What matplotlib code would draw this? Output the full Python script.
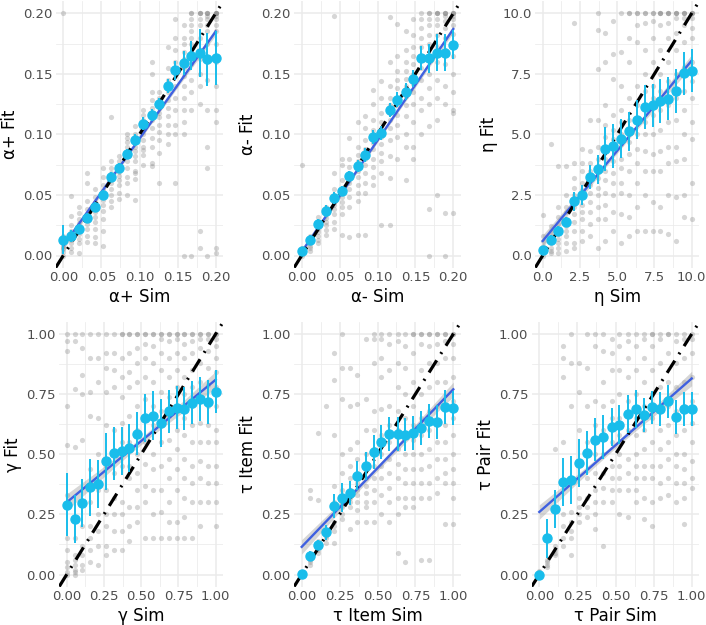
import numpy as np
import matplotlib
matplotlib.use("Agg")
import matplotlib.pyplot as plt
from matplotlib.ticker import FixedLocator

# ---------------- data ----------------
sim_alpha = [0.000, 0.0105, 0.021, 0.0316, 0.042, 0.0526, 0.063, 0.0737, 0.084, 0.0947,
             0.105, 0.116, 0.126, 0.137, 0.147, 0.158, 0.168, 0.179, 0.189, 0.200]
sim_eta = [0.00, 0.53, 1.05, 1.58, 2.11, 2.63, 3.16, 3.68, 4.21, 4.74,
           5.26, 5.79, 6.32, 6.84, 7.37, 7.89, 8.42, 8.95, 9.47, 10.0]
sim_unit = [0.000, 0.053, 0.105, 0.158, 0.211, 0.263, 0.316, 0.368, 0.421, 0.474,
            0.526, 0.579, 0.632, 0.684, 0.737, 0.789, 0.842, 0.895, 0.947, 1.000]

# binned means (cyan) and error half-widths
mean_ap = [0.013, 0.016, 0.022, 0.031, 0.040, 0.0497, 0.065, 0.072, 0.084, 0.0956,
           0.109, 0.116, 0.125, 0.140, 0.153, 0.159, 0.165, 0.167, 0.162, 0.163]
err_ap = [0.012, 0.005, 0.004, 0.004, 0.004, 0.004, 0.004, 0.004, 0.004, 0.005,
          0.005, 0.005, 0.005, 0.006, 0.008, 0.010, 0.012, 0.020, 0.022, 0.022]
mean_am = [0.0036, 0.013, 0.026, 0.0365, 0.0475, 0.0536, 0.066, 0.0736, 0.083, 0.098,
           0.101, 0.120, 0.1286, 0.1354, 0.146, 0.163, 0.163, 0.1676, 0.1676, 0.174]
err_am = [0.002, 0.004, 0.004, 0.005, 0.005, 0.004, 0.004, 0.005, 0.006, 0.006,
          0.006, 0.006, 0.006, 0.007, 0.007, 0.010, 0.012, 0.015, 0.015, 0.012]
mean_eta = [0.21, 0.64, 1.00, 1.39, 2.23, 2.50, 3.25, 3.57, 4.40, 4.53,
            4.82, 5.13, 5.61, 6.13, 6.20, 6.38, 6.48, 6.80, 7.52, 7.63]
err_eta = [0.1, 0.2, 0.2, 0.2, 0.4, 0.4, 0.5, 0.6, 0.9, 0.9,
           0.8, 0.8, 0.8, 0.9, 0.9, 0.9, 0.9, 0.9, 0.9, 0.9]
mean_gam = [0.290, 0.230, 0.297, 0.362, 0.376, 0.470, 0.505, 0.513, 0.526, 0.586,
            0.652, 0.661, 0.630, 0.678, 0.694, 0.689, 0.714, 0.730, 0.717, 0.760]
err_gam = [0.13, 0.10, 0.10, 0.12, 0.10, 0.12, 0.11, 0.10, 0.10, 0.09,
           0.10, 0.10, 0.10, 0.09, 0.09, 0.09, 0.09, 0.09, 0.09, 0.09]
mean_ti = [0.003, 0.076, 0.123, 0.175, 0.286, 0.320, 0.338, 0.410, 0.451, 0.509,
           0.550, 0.585, 0.585, 0.582, 0.589, 0.610, 0.637, 0.633, 0.697, 0.692]
err_ti = [0.005, 0.02, 0.02, 0.03, 0.05, 0.06, 0.05, 0.06, 0.06, 0.07,
          0.07, 0.07, 0.07, 0.07, 0.07, 0.07, 0.07, 0.07, 0.07, 0.07]
mean_tp = [0.000, 0.150, 0.272, 0.383, 0.394, 0.463, 0.505, 0.560, 0.572, 0.613,
           0.623, 0.667, 0.688, 0.664, 0.695, 0.688, 0.720, 0.655, 0.688, 0.688]
err_tp = [0.005, 0.08, 0.08, 0.10, 0.10, 0.10, 0.09, 0.09, 0.09, 0.08,
          0.08, 0.08, 0.08, 0.07, 0.07, 0.07, 0.07, 0.07, 0.07, 0.07]

# linear fit (start at x=min, end at x=max) and CI half-widths (ends, middle)
fit_line = {"ap": (0.008, 0.185), "am": (0.003, 0.187), "eta": (0.60, 8.05),
            "gam": (0.30, 0.81), "ti": (0.115, 0.77), "tp": (0.26, 0.815)}
fit_ci = {"ap": (0.003, 0.0015), "am": (0.003, 0.0015), "eta": (0.25, 0.10),
          "gam": (0.035, 0.015), "ti": (0.03, 0.012), "tp": (0.03, 0.012)}

# individual fits (gray), one list of y values per simulated level
gray_ap = [
    [0.2, 0.016, 0.010, 0.008, 0.005, 0.003, 0.0, 0.012, 0.006],
    [0.049, 0.033, 0.025, 0.020, 0.018, 0.015, 0.013, 0.010, 0.006, 0.003],
    [0.040, 0.035, 0.030, 0.027, 0.024, 0.020, 0.018, 0.014, 0.010, 0.002],
    [0.068, 0.060, 0.045, 0.038, 0.033, 0.030, 0.026, 0.022, 0.016, 0.011],
    [0.055, 0.048, 0.044, 0.040, 0.036, 0.032, 0.028, 0.022, 0.015, 0.010],
    [0.072, 0.065, 0.058, 0.054, 0.050, 0.046, 0.042, 0.037, 0.030, 0.020, 0.008],
    [0.114, 0.078, 0.072, 0.068, 0.064, 0.060, 0.055, 0.050, 0.045, 0.040],
    [0.082, 0.078, 0.075, 0.072, 0.069, 0.066, 0.062, 0.058, 0.052, 0.047],
    [0.100, 0.097, 0.094, 0.090, 0.085, 0.082, 0.078, 0.072, 0.065, 0.060, 0.050],
    [0.107, 0.100, 0.095, 0.090, 0.086, 0.082, 0.078, 0.070, 0.068, 0.063, 0.046],
    [0.120, 0.116, 0.112, 0.108, 0.105, 0.100, 0.095, 0.090, 0.087, 0.083, 0.075],
    [0.160, 0.150, 0.135, 0.128, 0.122, 0.118, 0.112, 0.105, 0.097, 0.090, 0.076, 0.074],
    [0.135, 0.130, 0.126, 0.122, 0.118, 0.114, 0.108, 0.102, 0.095, 0.085, 0.060],
    [0.172, 0.155, 0.145, 0.140, 0.135, 0.128, 0.122, 0.115, 0.108, 0.100, 0.092],
    [0.195, 0.180, 0.170, 0.160, 0.155, 0.150, 0.140, 0.130, 0.120, 0.108, 0.100, 0.060],
    [0.190, 0.180, 0.175, 0.168, 0.162, 0.155, 0.148, 0.140, 0.130, 0.120, 0.110, 0.100, 0.0],
    [0.200, 0.200, 0.195, 0.190, 0.185, 0.180, 0.175, 0.165, 0.158, 0.145, 0.135, 0.120, 0.0],
    [0.200, 0.200, 0.200, 0.195, 0.190, 0.180, 0.170, 0.162, 0.150, 0.140, 0.125, 0.020, 0.006],
    [0.200, 0.200, 0.200, 0.198, 0.195, 0.190, 0.185, 0.175, 0.160, 0.145, 0.120, 0.090, 0.072, 0.0],
    [0.200, 0.200, 0.200, 0.200, 0.198, 0.195, 0.190, 0.185, 0.175, 0.160, 0.140, 0.120, 0.110, 0.006, 0.002],
]
gray_am = [
    [0.075, 0.006, 0.004, 0.002, 0.001, 0.0],
    [0.016, 0.014, 0.012, 0.010, 0.008, 0.006, 0.004],
    [0.032, 0.028, 0.025, 0.022, 0.019, 0.016, 0.013, 0.010],
    [0.040, 0.037, 0.034, 0.031, 0.028, 0.025, 0.021, 0.017],
    [0.198, 0.068, 0.055, 0.050, 0.046, 0.042, 0.038, 0.034, 0.028, 0.022],
    [0.080, 0.075, 0.062, 0.056, 0.052, 0.048, 0.044, 0.040, 0.034, 0.017],
    [0.097, 0.080, 0.073, 0.068, 0.064, 0.060, 0.055, 0.048, 0.040, 0.015],
    [0.110, 0.090, 0.083, 0.078, 0.074, 0.070, 0.065, 0.058, 0.052, 0.045, 0.017],
    [0.115, 0.105, 0.095, 0.088, 0.084, 0.080, 0.075, 0.068, 0.060, 0.052, 0.017],
    [0.137, 0.125, 0.112, 0.104, 0.098, 0.093, 0.088, 0.080, 0.073, 0.065, 0.058],
    [0.144, 0.130, 0.118, 0.110, 0.104, 0.098, 0.092, 0.085, 0.078, 0.068, 0.025],
    [0.197, 0.160, 0.140, 0.130, 0.124, 0.118, 0.112, 0.105, 0.095, 0.082, 0.064, 0.025],
    [0.191, 0.165, 0.152, 0.145, 0.138, 0.130, 0.124, 0.116, 0.108, 0.098, 0.080],
    [0.185, 0.170, 0.160, 0.152, 0.146, 0.140, 0.132, 0.124, 0.115, 0.100, 0.090, 0.062],
    [0.195, 0.182, 0.172, 0.165, 0.158, 0.150, 0.142, 0.135, 0.125, 0.110, 0.090, 0.080],
    [0.200, 0.195, 0.188, 0.180, 0.172, 0.165, 0.155, 0.145, 0.130, 0.120, 0.100],
    [0.200, 0.200, 0.195, 0.190, 0.182, 0.175, 0.165, 0.150, 0.138, 0.125, 0.107, 0.038, 0.0],
    [0.200, 0.200, 0.200, 0.195, 0.190, 0.182, 0.172, 0.160, 0.145, 0.130, 0.112, 0.050],
    [0.200, 0.200, 0.200, 0.198, 0.194, 0.188, 0.180, 0.170, 0.158, 0.140, 0.125, 0.035, 0.0],
    [0.200, 0.200, 0.200, 0.198, 0.195, 0.190, 0.183, 0.175, 0.165, 0.150, 0.135, 0.120, 0.118, 0.035],
]
gray_eta = [
    [1.68, 0.8, 0.6, 0.4, 0.3, 0.2, 0.1, 0.0],
    [4.6, 1.2, 1.0, 0.8, 0.6, 0.5, 0.3, 0.2, 0.1],
    [3.7, 2.0, 1.6, 1.3, 1.1, 0.9, 0.7, 0.5, 0.3, 0.1],
    [3.7, 2.5, 2.0, 1.8, 1.5, 1.2, 1.0, 0.8, 0.5, 0.2],
    [9.6, 3.8, 3.2, 2.8, 2.5, 2.2, 2.0, 1.7, 1.4, 1.0, 0.5, 0.3],
    [4.4, 3.8, 3.5, 3.0, 2.7, 2.4, 2.1, 1.8, 1.5, 1.0, 0.6],
    [5.6, 4.3, 3.8, 3.5, 3.2, 2.9, 2.6, 2.2, 1.8, 1.3, 0.8],
    [10.0, 9.3, 7.7, 5.6, 4.5, 4.0, 3.6, 3.2, 2.8, 2.5, 2.0, 1.5, 0.3],
    [9.2, 8.0, 6.2, 5.4, 4.9, 4.5, 4.0, 3.5, 3.1, 2.6, 2.1, 1.5, 0.6],
    [9.7, 8.3, 7.3, 5.8, 5.2, 4.8, 4.4, 3.9, 3.4, 3.0, 2.5, 1.8, 1.0],
    [10.0, 8.4, 7.0, 6.0, 5.5, 5.0, 4.6, 4.0, 3.6, 3.0, 2.6, 1.7, 0.5],
    [10.0, 10.0, 9.0, 8.0, 6.5, 5.6, 5.2, 4.7, 4.2, 3.5, 2.5, 1.6, 0.8],
    [10.0, 10.0, 9.5, 8.8, 7.0, 6.2, 5.5, 5.0, 4.4, 3.8, 3.0, 2.0, 1.0],
    [10.0, 10.0, 9.6, 8.5, 7.5, 6.8, 6.2, 5.5, 5.0, 4.3, 3.5, 2.5, 1.0],
    [10.0, 10.0, 9.7, 9.0, 8.0, 7.0, 6.5, 5.8, 5.0, 4.2, 3.5, 2.2, 1.0],
    [10.0, 10.0, 10.0, 9.5, 8.5, 7.5, 6.8, 6.0, 5.2, 4.3, 3.5, 2.0, 1.0],
    [10.0, 10.0, 10.0, 9.6, 9.0, 8.0, 7.2, 6.2, 5.5, 4.5, 3.8, 2.5, 0.9],
    [10.0, 10.0, 10.0, 9.8, 9.2, 8.5, 7.5, 6.5, 5.6, 4.5, 3.9, 2.4, 0.6],
    [10.0, 10.0, 10.0, 9.8, 9.5, 8.8, 7.8, 6.8, 6.0, 5.0, 4.0, 2.5, 1.6],
    [10.0, 10.0, 10.0, 9.8, 9.4, 9.0, 8.0, 7.2, 6.5, 5.5, 4.8, 3.0, 1.5],
]
gray_gam = [
    [1.0, 0.97, 0.93, 0.70, 0.54, 0.33, 0.15, 0.10, 0.05, 0.03, 0.01, 0.0],
    [1.0, 0.97, 0.77, 0.53, 0.15, 0.08, 0.06, 0.04, 0.02, 0.01, 0.0],
    [1.0, 0.94, 0.83, 0.75, 0.56, 0.30, 0.20, 0.12, 0.08, 0.04, 0.02],
    [1.0, 0.90, 0.76, 0.66, 0.44, 0.30, 0.20, 0.15, 0.10, 0.05],
    [1.0, 0.90, 0.80, 0.65, 0.50, 0.35, 0.25, 0.18, 0.12, 0.04],
    [1.0, 0.92, 0.86, 0.76, 0.62, 0.45, 0.35, 0.25, 0.20, 0.12, 0.08],
    [1.0, 0.92, 0.85, 0.78, 0.60, 0.42, 0.32, 0.25, 0.18, 0.10],
    [1.0, 1.0, 0.90, 0.82, 0.74, 0.63, 0.55, 0.45, 0.30, 0.25, 0.18, 0.10],
    [1.0, 1.0, 0.92, 0.84, 0.78, 0.66, 0.55, 0.45, 0.40, 0.28, 0.20, 0.14],
    [1.0, 1.0, 0.94, 0.88, 0.80, 0.70, 0.60, 0.50, 0.42, 0.35, 0.28, 0.22],
    [1.0, 1.0, 0.96, 0.90, 0.82, 0.73, 0.65, 0.55, 0.46, 0.37, 0.30, 0.15],
    [1.0, 1.0, 0.95, 0.88, 0.80, 0.70, 0.62, 0.50, 0.44, 0.35, 0.25, 0.15],
    [1.0, 1.0, 0.98, 0.92, 0.85, 0.76, 0.68, 0.55, 0.45, 0.35, 0.26, 0.15],
    [1.0, 1.0, 0.97, 0.90, 0.82, 0.74, 0.66, 0.56, 0.48, 0.40, 0.30, 0.22, 0.15],
    [1.0, 1.0, 0.98, 0.92, 0.85, 0.78, 0.70, 0.60, 0.52, 0.44, 0.35, 0.22, 0.15],
    [1.0, 1.0, 0.96, 0.90, 0.82, 0.75, 0.65, 0.58, 0.48, 0.40, 0.32, 0.24, 0.15],
    [1.0, 1.0, 0.97, 0.92, 0.85, 0.78, 0.70, 0.62, 0.55, 0.45, 0.38, 0.30, 0.15],
    [1.0, 1.0, 0.98, 0.94, 0.88, 0.80, 0.72, 0.63, 0.55, 0.47, 0.40, 0.30, 0.20],
    [1.0, 1.0, 0.98, 0.93, 0.86, 0.79, 0.70, 0.62, 0.55, 0.45, 0.38, 0.30],
    [1.0, 1.0, 0.98, 0.95, 0.90, 0.84, 0.78, 0.70, 0.60, 0.55, 0.45, 0.38, 0.30, 0.20],
]
gray_ti = [
    [0.0, 0.005, 0.01],
    [0.35, 0.32, 0.08, 0.06, 0.05, 0.04],
    [0.59, 0.31, 0.14, 0.12, 0.10, 0.09],
    [0.70, 0.18, 0.16, 0.15, 0.13],
    [0.92, 0.81, 0.58, 0.37, 0.30, 0.22, 0.20, 0.18, 0.13],
    [1.0, 0.86, 0.73, 0.50, 0.42, 0.35, 0.30, 0.28, 0.25, 0.23],
    [0.86, 0.70, 0.52, 0.45, 0.40, 0.35, 0.32, 0.30, 0.28, 0.19],
    [0.83, 0.71, 0.55, 0.48, 0.42, 0.38, 0.35, 0.33, 0.30, 0.27, 0.22],
    [0.98, 0.73, 0.60, 0.50, 0.45, 0.40, 0.37, 0.34, 0.30, 0.28, 0.22],
    [1.0, 0.98, 0.88, 0.68, 0.60, 0.52, 0.45, 0.40, 0.35, 0.30, 0.22],
    [1.0, 0.98, 0.90, 0.82, 0.69, 0.58, 0.50, 0.45, 0.40, 0.33, 0.25],
    [1.0, 0.96, 0.85, 0.70, 0.62, 0.55, 0.48, 0.42, 0.36, 0.30, 0.22],
    [1.0, 0.97, 0.88, 0.78, 0.68, 0.60, 0.52, 0.46, 0.40, 0.32, 0.25, 0.09],
    [1.0, 0.95, 0.86, 0.75, 0.65, 0.58, 0.50, 0.44, 0.38, 0.32, 0.28, 0.05],
    [1.0, 1.0, 0.92, 0.80, 0.70, 0.62, 0.56, 0.50, 0.44, 0.38, 0.32, 0.28],
    [1.0, 1.0, 0.96, 0.85, 0.75, 0.65, 0.58, 0.50, 0.44, 0.38, 0.32, 0.06],
    [1.0, 1.0, 0.95, 0.88, 0.78, 0.68, 0.60, 0.52, 0.45, 0.38, 0.32, 0.06],
    [1.0, 1.0, 0.96, 0.88, 0.80, 0.70, 0.62, 0.55, 0.48, 0.40, 0.34],
    [1.0, 1.0, 0.97, 0.90, 0.80, 0.70, 0.62, 0.55, 0.48, 0.42, 0.38, 0.21],
    [1.0, 1.0, 0.96, 0.90, 0.82, 0.72, 0.65, 0.58, 0.50, 0.44, 0.38, 0.32, 0.21],
]
gray_tp = [
    [0.0, 0.005, 0.01, 0.015],
    [0.06, 0.05, 0.04, 0.03],
    [0.52, 0.12, 0.10, 0.09, 0.08],
    [0.95, 0.90, 0.82, 0.55, 0.25, 0.20, 0.15, 0.12],
    [1.0, 0.88, 0.70, 0.40, 0.26, 0.22, 0.18, 0.15, 0.08],
    [0.88, 0.76, 0.60, 0.45, 0.32, 0.28, 0.25, 0.22],
    [1.0, 0.86, 0.70, 0.55, 0.40, 0.32, 0.28, 0.24],
    [1.0, 0.95, 0.72, 0.62, 0.50, 0.42, 0.35, 0.30, 0.25, 0.19],
    [1.0, 0.93, 0.80, 0.70, 0.60, 0.50, 0.42, 0.36, 0.30, 0.12],
    [0.98, 0.92, 0.85, 0.72, 0.65, 0.55, 0.45, 0.40, 0.35, 0.30],
    [1.0, 0.95, 0.85, 0.75, 0.65, 0.58, 0.50, 0.45, 0.40, 0.35, 0.25],
    [1.0, 0.97, 0.90, 0.82, 0.72, 0.60, 0.48, 0.42, 0.35, 0.24],
    [1.0, 0.95, 0.85, 0.75, 0.65, 0.58, 0.50, 0.45, 0.40, 0.35, 0.30],
    [1.0, 0.98, 0.90, 0.80, 0.70, 0.60, 0.52, 0.45, 0.40, 0.32, 0.23],
    [1.0, 1.0, 0.95, 0.85, 0.75, 0.65, 0.55, 0.45, 0.40, 0.30, 0.20],
    [1.0, 0.98, 0.88, 0.78, 0.68, 0.60, 0.52, 0.45, 0.38, 0.32],
    [1.0, 1.0, 0.92, 0.80, 0.70, 0.62, 0.55, 0.48, 0.40, 0.33],
    [1.0, 0.97, 0.88, 0.78, 0.68, 0.58, 0.50, 0.45, 0.38, 0.30],
    [1.0, 0.98, 0.90, 0.80, 0.70, 0.60, 0.50, 0.44, 0.38, 0.32, 0.21],
    [1.0, 0.98, 0.92, 0.82, 0.72, 0.63, 0.55, 0.47, 0.40, 0.36],
]

x_labels = ["α+ Sim", "α- Sim", "η Sim", "γ Sim", "τ Item Sim", "τ Pair Sim"]
y_labels = ["α+ Fit", "α- Fit", "η Fit", "γ Fit", "τ Item Fit", "τ Pair Fit"]
ticks_alpha = [0.00, 0.05, 0.10, 0.15, 0.20]
tick_lbl_alpha = ["0.00", "0.05", "0.10", "0.15", "0.20"]
ticks_eta = [0.0, 2.5, 5.0, 7.5, 10.0]
tick_lbl_eta = ["0.0", "2.5", "5.0", "7.5", "10.0"]
ticks_unit = [0.00, 0.25, 0.50, 0.75, 1.00]
tick_lbl_unit = ["0.00", "0.25", "0.50", "0.75", "1.00"]

panels = [
    ("ap", sim_alpha, gray_ap, mean_ap, err_ap, ticks_alpha, tick_lbl_alpha),
    ("am", sim_alpha, gray_am, mean_am, err_am, ticks_alpha, tick_lbl_alpha),
    ("eta", sim_eta, gray_eta, mean_eta, err_eta, ticks_eta, tick_lbl_eta),
    ("gam", sim_unit, gray_gam, mean_gam, err_gam, ticks_unit, tick_lbl_unit),
    ("ti", sim_unit, gray_ti, mean_ti, err_ti, ticks_unit, tick_lbl_unit),
    ("tp", sim_unit, gray_tp, mean_tp, err_tp, ticks_unit, tick_lbl_unit),
]

# ---------------- layout (pixel positions of data min / max) ----------------
W, H = 706, 625
# (px of x=min, px of x=max, py of y=max, py of y=min)
calib = [
    (63.3, 215.7, 13.3, 255.5),
    (301.7, 453.3, 13.3, 255.5),
    (542.7, 691.7, 13.3, 255.5),
    (66.7, 215.7, 334.0, 574.5),
    (301.7, 453.3, 334.0, 574.5),
    (539.3, 691.7, 334.0, 574.5),
]

CYAN = "#19BDEB"
BLUE = "#3F60E0"
GRID = "#EBEBEB"
TXT = "#4D4D4D"
plt.rcParams["font.family"] = ["DejaVu Sans"]

fig = plt.figure(figsize=(W / 100, H / 100), dpi=100)

for i, (key, xs, gray, means, errs, ticks, tlbls) in enumerate(panels):
    px0, px1, pyt, pyb = calib[i]
    dx = 0.05 * (px1 - px0)
    dy = 0.05 * (pyb - pyt)
    left = (px0 - dx) / W
    right = (px1 + dx) / W
    top = 1 - (pyt - dy) / H
    bottom = 1 - (pyb + dy) / H
    ax = fig.add_axes([left, bottom, right - left, top - bottom])

    lo, hi = ticks[0], ticks[-1]
    r = hi - lo
    ax.set_xlim(lo - 0.05 * r, hi + 0.05 * r)
    ax.set_ylim(lo - 0.05 * r, hi + 0.05 * r)

    # grid
    ax.xaxis.set_major_locator(FixedLocator(ticks))
    ax.yaxis.set_major_locator(FixedLocator(ticks))
    minor = [(ticks[k] + ticks[k + 1]) / 2 for k in range(len(ticks) - 1)]
    ax.xaxis.set_minor_locator(FixedLocator(minor))
    ax.yaxis.set_minor_locator(FixedLocator(minor))
    ax.grid(which="major", color=GRID, linewidth=1.1)
    ax.grid(which="minor", color=GRID, linewidth=0.55)
    ax.set_axisbelow(True)
    for s in ax.spines.values():
        s.set_visible(False)
    ax.tick_params(which="both", length=0)
    ax.tick_params(which="major", labelsize=9.5, labelcolor=TXT, pad=2.5)
    ax.set_xticklabels(tlbls)
    ax.set_yticklabels(tlbls)

    # gray individual fits
    gx, gy = [], []
    for xv, col in zip(xs, gray):
        gx.extend([xv] * len(col))
        gy.extend(col)
    ax.scatter(gx, gy, s=14, color="#7A7A7A", alpha=0.3, linewidths=0, zorder=2)

    # linear fit with CI band
    y0, y1 = fit_line[key]
    ce, cm = fit_ci[key]
    xl = np.linspace(xs[0], xs[-1], 80)
    yl = y0 + (y1 - y0) * (xl - xs[0]) / (xs[-1] - xs[0])
    t = (xl - (xs[0] + xs[-1]) / 2) / ((xs[-1] - xs[0]) / 2)
    w = np.sqrt(cm ** 2 + (ce ** 2 - cm ** 2) * t ** 2)
    ax.fill_between(xl, yl - w, yl + w, color="#999999", alpha=0.4, linewidth=0, zorder=3)
    ax.plot(xl, yl, color=BLUE, linewidth=1.7, zorder=4)

    # identity line
    ax.axline((0, 0), slope=1, color="black", linewidth=2.3,
              linestyle=(0, (4.5, 2.4, 0.6, 2.4)), zorder=5)

    # binned means with error bars
    ax.errorbar(xs, means, yerr=errs, fmt="o", color=CYAN, ecolor=CYAN,
                elinewidth=1.4, markersize=6.5, capsize=0, zorder=6)

    ax.set_xlabel(x_labels[i], fontsize=12, color="black", labelpad=3)
    ax.set_ylabel(y_labels[i], fontsize=12, color="black", labelpad=3)

fig.savefig("out.png", dpi=100)
